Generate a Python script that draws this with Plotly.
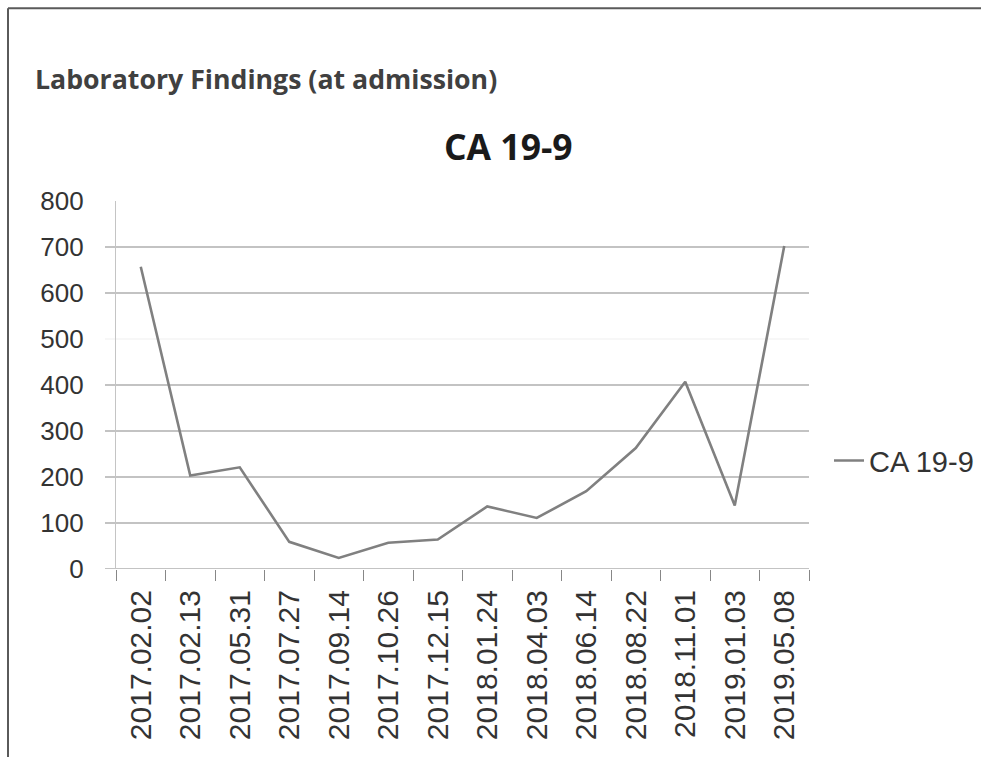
import plotly.graph_objects as go

# ---- data ----
dates = ["2017.02.02", "2017.02.13", "2017.05.31", "2017.07.27", "2017.09.14",
         "2017.10.26", "2017.12.15", "2018.01.24", "2018.04.03", "2018.06.14",
         "2018.08.22", "2018.11.01", "2019.01.03", "2019.05.08"]
ca199 = [657, 203, 221, 59, 24, 57, 64, 136, 111, 169, 263, 407, 138, 702]
y_ticks = [0, 100, 200, 300, 400, 500, 600, 700, 800]
grid_vals = [100, 200, 300, 400, 500, 600, 700]
faint_grid = [500]

W, H = 981, 757
L, R, T, B = 116, 809, 201, 569.5

def px_x(x):
    return (x - L) / (R - L)

def px_y(y):
    return (B - y) / (B - T)

fig = go.Figure()
fig.add_trace(go.Scatter(
    x=dates, y=ca199, mode="lines", name="CA 19-9",
    line=dict(color="#808080", width=2.6),
))

shapes = []
for g in grid_vals:
    col = "#f0f0f0" if g in faint_grid else "#878787"
    shapes.append(dict(type="line", xref="paper", yref="y",
                       x0=px_x(105), x1=1, y0=g, y1=g,
                       line=dict(color=col, width=1.2), layer="below"))
# zero line (extends left like the gridlines)
shapes.append(dict(type="line", xref="paper", yref="y",
                   x0=px_x(105), x1=1, y0=0, y1=0,
                   line=dict(color="#878787", width=1.2), layer="below"))
# outer frame (top and left borders)
shapes.append(dict(type="line", xref="paper", yref="paper",
                   x0=px_x(8), x1=px_x(990), y0=px_y(8), y1=px_y(8),
                   line=dict(color="#5a5a5a", width=2)))
shapes.append(dict(type="line", xref="paper", yref="paper",
                   x0=px_x(8), x1=px_x(8), y0=px_y(8), y1=px_y(770),
                   line=dict(color="#5a5a5a", width=2)))

fig.update_layout(
    width=W, height=H,
    margin=dict(l=L, r=W - R, t=T, b=H - B, autoexpand=False),
    paper_bgcolor="white", plot_bgcolor="white",
    showlegend=True,
    legend=dict(x=px_x(829), y=px_y(461), xanchor="left", yanchor="middle",
                font=dict(family="Liberation Sans", size=29, color="#333333"),
                bgcolor="rgba(0,0,0,0)", itemwidth=30),
    title=dict(text="<b>Laboratory Findings (at admission)</b>",
               xref="container", yref="container",
               x=35 / W, xanchor="left", y=1 - 80 / H, yanchor="middle",
               font=dict(family="Open Sans", size=26.7, color="#404040")),
    annotations=[dict(text="<b>CA 19-9</b>", xref="paper", yref="paper",
                      x=px_x(508), y=px_y(146), xanchor="center", yanchor="middle",
                      showarrow=False,
                      font=dict(family="Open Sans", size=35.5, color="#1a1a1a"))],
    shapes=shapes,
    xaxis=dict(type="category", categoryorder="array", categoryarray=dates,
               range=[-0.5, len(dates) - 0.5],
               tickson="boundaries", ticks="outside", ticklen=11,
               tickcolor="#878787", tickwidth=1.2,
               showline=False, showgrid=False, zeroline=False,
               tickangle=-90, ticklabelstandoff=14,
               tickfont=dict(family="Liberation Sans", size=30, color="#333333")),
    yaxis=dict(range=[0, 800], tickvals=y_ticks, ticktext=[str(v) for v in y_ticks],
               showgrid=False, zeroline=False, showline=True,
               linecolor="#c4c4c4", linewidth=1.2, ticks="",
               ticklabelstandoff=26,
               tickfont=dict(family="Liberation Sans", size=26, color="#333333")),
)

fig.write_html("out.html")
